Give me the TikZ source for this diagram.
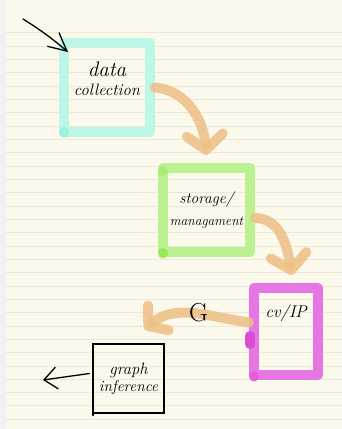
\documentclass[tikz,border=0pt]{standalone}
\usetikzlibrary{arrows.meta}
\definecolor{paper}{HTML}{FBF9EC}
\definecolor{strip}{HTML}{F2F2F4}
\definecolor{rule}{HTML}{ECE8D7}
\definecolor{cyanbox}{HTML}{BDF5E6}
\definecolor{cyandot}{HTML}{9DEFE4}
\definecolor{greenbox}{HTML}{BBF190}
\definecolor{greendot}{HTML}{9CEA5C}
\definecolor{magbox}{HTML}{E676E3}
\definecolor{magdot}{HTML}{D94DD6}
\definecolor{flowor}{HTML}{EDBF85}
\begin{document}
\begin{tikzpicture}[x=1pt,y=-1pt,
  hbox/.style={draw=#1, line width=10pt, rectangle, line join=round, inner sep=0pt, align=center, font=\itshape},
  flow/.style={draw=flowor, line width=10pt, line cap=round, draw opacity=0.85,
    -{Straight Barb[length=15pt,width=36pt,line cap=round,line join=round]}},
  pen/.style={draw=black, line width=1.3pt, line cap=round, line join=round},
  dot/.style={line width=10pt, line cap=round}
]
\useasboundingbox (0,0) rectangle (342,429);
\fill[paper] (0,0) rectangle (342,429);
\fill[strip] (0,0) rectangle (6,429);
\foreach \k in {0,...,29} {
  \draw[rule, line width=0.9pt] (6,32.7+13.33*\k) -- (342,32.7+13.33*\k);
}
% boxes
\node[hbox=cyanbox, minimum width=86pt, minimum height=89pt] (c) at (107,87.5)
  {{\fontsize{21}{22}\selectfont data}\\[7pt]{\fontsize{16.5}{18}\selectfont collection}\\[6pt]};
\node[hbox=greenbox, minimum width=87pt, minimum height=84pt] (g) at (206.5,210)
  {{\fontsize{15.5}{17}\selectfont storage/}\\[9pt]{\fontsize{13.5}{15}\selectfont managament}};
\node[hbox=magbox, minimum width=64pt, minimum height=87pt, text depth=40pt] (m) at (286,331.5)
  {\fontsize{17}{18}\selectfont cv/IP};
\node[draw=black, line width=1.2pt, minimum width=71pt, minimum height=69pt, inner sep=0pt, align=center, font=\itshape] (b) at (128.5,378.5)
  {{\fontsize{16.5}{18}\selectfont graph}\\[2pt]{\fontsize{15.5}{17}\selectfont inference}};
\draw[pen] (b.north west) ++(0.6pt,0) -- ++(0,-72pt);
% darker corner dots
\draw[dot, cyandot] ([shift={(5pt,5pt)}]c.south west) -- ++(0,-0.5pt);
\draw[dot, greendot] ([shift={(5pt,4pt)}]g.south west) -- ++(0,-0.5pt);
\draw[dot, greendot!60!greenbox] ([shift={(5pt,-8pt)}]g.north west) -- ++(0,-0.5pt);
\draw[dot, magdot] ([shift={(1pt,-4.5pt)}]m.west) -- ++(0,-8pt);
\draw[dot, magdot!50!magbox] ([shift={(5pt,4pt)}]m.south west) -- ++(0,-0.5pt);
% flows
\draw[flow] (c.east) to[out=-5,in=95] ([yshift=8pt]g.north);
\draw[flow] ([yshift=-8pt]g.east) to[out=0,in=100] ([xshift=6pt,yshift=8pt]m.north);
\draw[flow, -{Straight Barb[length=13pt,width=32pt,line cap=round,line join=round]}] ([yshift=9pt]m.west) to[out=172,in=40]
  node[pos=0.45, yshift=2pt, text=black, font=\fontsize{26}{26}\selectfont] (G) {G}
  ([xshift=16pt,yshift=14pt]b.north);
% black arrows
\coordinate (in) at (23,19);
\coordinate (out) at (43,380);
\draw[pen, -{Straight Barb[length=18pt,width=18pt]}] (in) to[bend left=4] ([xshift=9pt,yshift=-14pt]c.north west);
\draw[pen, -{Straight Barb[length=13pt,width=22pt]}] ([xshift=-3pt,yshift=5pt]b.west) -- (out);
\end{tikzpicture}
\end{document}
